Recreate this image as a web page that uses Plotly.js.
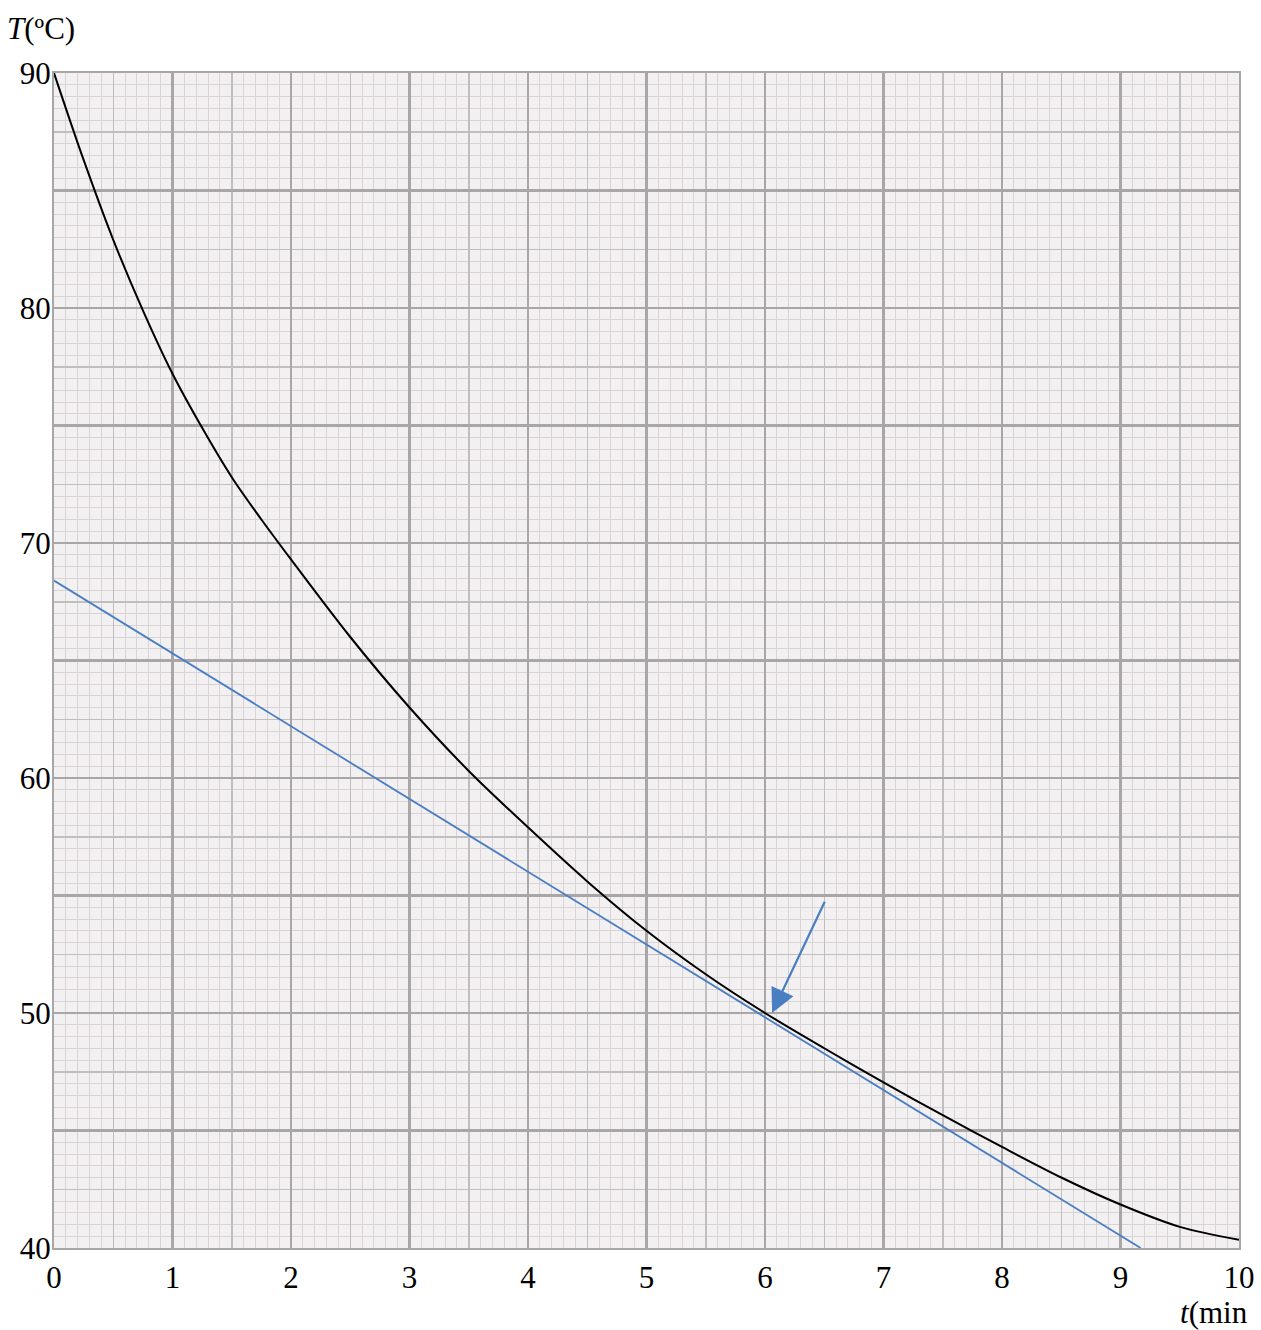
<!DOCTYPE html>
<html>
<head>
<meta charset="utf-8">
<script src="https://cdn.plot.ly/plotly-3.0.1.min.js"></script>
<style>html,body{margin:0;padding:0;background:#fff;}</style>
</head>
<body>
<div id="chart" style="width:1261px;height:1330px;"></div>
<script>
// Cooling curve T(t)
const curveT = [0, 0.25, 0.5, 0.75, 1, 1.25, 1.5, 1.75, 2, 2.5, 3, 3.5, 4, 4.5, 5, 5.5, 6, 6.5, 7, 7.5, 8, 8.5, 9, 9.5, 10];
const curveTemp = [90, 86.3, 82.9, 79.9, 77.2, 74.9, 72.8, 71.0, 69.3, 66.0, 63.0, 60.3, 57.9, 55.6, 53.5, 51.65, 50.0, 48.5, 47.05, 45.65, 44.3, 43.0, 41.85, 40.9, 40.35];
// Tangent line at t = 6
const tangentT = [0, 9.17];
const tangentTemp = [68.4, 40.0];
// Arrow pointing at the tangent point (tail -> head)
const arrowTail = [6.51, 54.8];
const arrowHead = [6.06, 50.0];
// Tick labels
const xTickVals = [0, 1, 2, 3, 4, 5, 6, 7, 8, 9, 10];
const xTickText = ['0', '1', '2', '3', '4', '5', '6', '7', '8', '9', '10'];
const yTickVals = [40, 50, 60, 70, 80, 90];
const yTickText = ['40', '50', '60', '70', '80', '90'];
const yTitle = '<i>T</i>(ºC)';
const xTitle = '<i>t</i>(min';

const FONT = 'Liberation Serif, Times New Roman, serif';
const major = '#a9a6a8', medium = '#c1bec0', minor = '#d8d4d6';

const traces = [
  {x: [], y: [], xaxis: 'x2', yaxis: 'y2', hoverinfo: 'skip', showlegend: false},
  {x: curveT, y: curveTemp, mode: 'lines', line: {color: '#000000', width: 2, shape: 'spline', smoothing: 0.9}, showlegend: false},
  {x: tangentT, y: tangentTemp, mode: 'lines', line: {color: '#4a7ec2', width: 1.8}, showlegend: false}
];

const layout = {
  width: 1261, height: 1330,
  margin: {l: 54, r: 22, t: 73, b: 82},
  paper_bgcolor: '#ffffff',
  plot_bgcolor: '#f3f0f1',
  showlegend: false,
  font: {family: FONT, size: 31, color: '#000'},
  xaxis: {
    range: [0, 10], tickvals: xTickVals, ticktext: xTickText,
    showgrid: false, zeroline: false, ticks: '',
    showline: true, linecolor: major, linewidth: 2, mirror: true,
    tickfont: {family: FONT, size: 31, color: '#000'},
    ticklabelstandoff: 1,
    minor: {dtick: 0.1, showgrid: true, gridcolor: minor, gridwidth: 1}
  },
  yaxis: {
    range: [40, 90], tickvals: yTickVals, ticktext: yTickText,
    showgrid: false, zeroline: false, ticks: '',
    showline: true, linecolor: major, linewidth: 2, mirror: true,
    tickfont: {family: FONT, size: 31, color: '#000'},
    ticklabelstandoff: -5,
    minor: {dtick: 0.5, showgrid: true, gridcolor: minor, gridwidth: 1}
  },
  xaxis2: {
    overlaying: 'x', anchor: 'y2', range: [0, 10], dtick: 1,
    showgrid: true, gridcolor: major, gridwidth: 2.5,
    showticklabels: false, zeroline: false, ticks: '', showline: false,
    minor: {dtick: 0.5, showgrid: true, gridcolor: medium, gridwidth: 1.5}
  },
  yaxis2: {
    overlaying: 'y', anchor: 'x2', range: [40, 90], dtick: 5,
    showgrid: true, gridcolor: major, gridwidth: 2.5,
    showticklabels: false, zeroline: false, ticks: '', showline: false,
    minor: {dtick: 2.5, showgrid: true, gridcolor: medium, gridwidth: 1.5}
  },
  annotations: [
    {xref: 'paper', yref: 'paper', x: -0.041, y: 1.038, xanchor: 'left', yanchor: 'middle',
     text: yTitle, showarrow: false, font: {family: FONT, size: 31, color: '#000'}},
    {xref: 'paper', yref: 'paper', x: 1.009, y: -0.0545, xanchor: 'right', yanchor: 'middle',
     text: xTitle, showarrow: false, font: {family: FONT, size: 31, color: '#000'}},
    {x: arrowHead[0], y: arrowHead[1], ax: arrowTail[0], ay: arrowTail[1],
     xref: 'x', yref: 'y', axref: 'x', ayref: 'y', text: '', showarrow: true,
     arrowhead: 2, arrowsize: 2.2, arrowwidth: 2.2, arrowcolor: '#4a7ec2', standoff: 0}
  ]
};

Plotly.newPlot('chart', traces, layout, {displayModeBar: false, staticPlot: true});
</script>
</body>
</html>
